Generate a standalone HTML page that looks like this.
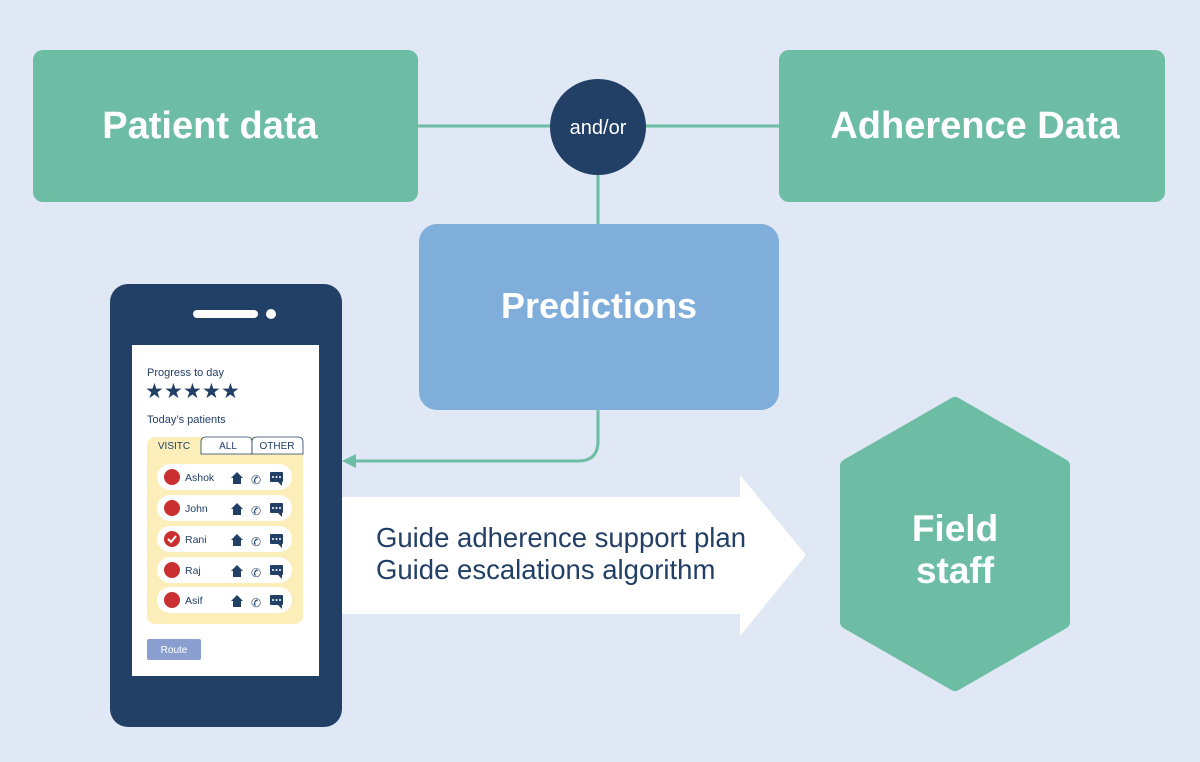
<!DOCTYPE html>
<html><head><style>
html,body{margin:0;padding:0;background:#dfe8f4;}
svg{display:block;font-family:"Liberation Sans",sans-serif;}
</style></head><body>
<svg width="1200" height="762" viewBox="0 0 1200 762" xmlns="http://www.w3.org/2000/svg">
<rect width="1200" height="762" fill="#dfe8f4"/>
<line x1="418" y1="126" x2="779" y2="126" stroke="#6dbda4" stroke-width="3"/>
<line x1="598" y1="150" x2="598" y2="226" stroke="#6dbda4" stroke-width="3"/>
<path d="M598 405 V441 Q598 461 578 461 H352" fill="none" stroke="#6dbda4" stroke-width="3"/>
<polygon points="342,461 356,454 356,468" fill="#6dbda4"/>
<rect x="33" y="50" width="385" height="152" rx="10" fill="#6dbda4"/>
<text x="210" y="138" text-anchor="middle" font-size="38" font-weight="bold" fill="#fff">Patient data</text>
<rect x="779" y="50" width="386" height="152" rx="10" fill="#6dbda4"/>
<text x="975" y="138" text-anchor="middle" font-size="38" font-weight="bold" fill="#fff">Adherence Data</text>
<circle cx="598" cy="127" r="48" fill="#223f66"/>
<text x="598" y="134" text-anchor="middle" font-size="20" fill="#fff">and/or</text>
<rect x="419" y="224" width="360" height="186" rx="18" fill="#80aedb"/>
<text x="599" y="318" text-anchor="middle" font-size="36" font-weight="bold" fill="#fff">Predictions</text>
<polygon points="342,497 740,497 740,475 806,555 740,636 740,614 342,614" fill="#fff"/>
<text x="376" y="547" font-size="27.5" fill="#223f66">Guide adherence support plan</text>
<text x="376" y="579" font-size="27.5" fill="#223f66">Guide escalations algorithm</text>
<polygon points="955,404 1063,466 1063,622 955,684 847,622 847,466" fill="#6dbda4" stroke="#6dbda4" stroke-width="14" stroke-linejoin="round"/>
<text x="955" y="541" text-anchor="middle" font-size="37" font-weight="bold" fill="#fff">Field</text>
<text x="955" y="583" text-anchor="middle" font-size="37" font-weight="bold" fill="#fff">staff</text>
<rect x="110" y="284" width="232" height="443" rx="18" fill="#223f66"/>
<rect x="193" y="310" width="65" height="8" rx="4" fill="#fff"/>
<circle cx="271" cy="314" r="5" fill="#fff"/>
<rect x="132" y="345" width="187" height="331" fill="#fff"/>
<text x="147" y="376" font-size="11" fill="#223f66">Progress to day</text>
<g fill="#223f66" font-size="21">
<text x="145" y="398">★</text><text x="164" y="398">★</text><text x="183" y="398">★</text><text x="202" y="398">★</text><text x="221" y="398">★</text>
</g>
<text x="147" y="423" font-size="11" fill="#223f66">Today’s patients</text>
<rect x="147" y="437" width="156" height="187" rx="8" fill="#fbeeb8"/>
<path d="M201 454 V442 Q201 437 206 437 H248 Q252 437 252 442 V454 Z" fill="#fff" stroke="#223f66" stroke-width="0.8"/>
<path d="M252 454 V442 Q252 437 257 437 H298 Q303 437 303 442 V454 Z" fill="#fff" stroke="#223f66" stroke-width="0.8"/>
<text x="174" y="449" text-anchor="middle" font-size="10" fill="#223f66">VISITC</text>
<text x="228" y="449" text-anchor="middle" font-size="10" fill="#223f66">ALL</text>
<text x="277" y="449" text-anchor="middle" font-size="10" fill="#223f66">OTHER</text>
<g font-size="10.5" fill="#223f66">
<rect x="157" y="464" width="135" height="26" rx="13" fill="#fff"/><circle cx="172" cy="477" r="8" fill="#c9302f"/><text x="185" y="481">Ashok</text>
<rect x="157" y="495" width="135" height="26" rx="13" fill="#fff"/><circle cx="172" cy="508" r="8" fill="#c9302f"/><text x="185" y="512">John</text>
<rect x="157" y="526" width="135" height="26" rx="13" fill="#fff"/><circle cx="172" cy="539" r="8" fill="#c9302f"/><path d="M168 539 l3 3 l5 -6" stroke="#fff" stroke-width="2" fill="none"/><text x="185" y="543">Rani</text>
<rect x="157" y="557" width="135" height="26" rx="13" fill="#fff"/><circle cx="172" cy="570" r="8" fill="#c9302f"/><text x="185" y="574">Raj</text>
<rect x="157" y="587" width="135" height="26" rx="13" fill="#fff"/><circle cx="172" cy="600" r="8" fill="#c9302f"/><text x="185" y="604">Asif</text>
</g>
<g fill="#223f66">
<g id="ic"><polygon points="237,472 231,478 233,478 233,484 241,484 241,478 243,478"/><text x="251" y="484" font-size="12">✆</text><rect x="270" y="472" width="13" height="10" rx="1"/><polygon points="278,482 282,482 282,486"/><circle cx="273" cy="477" r="1" fill="#fff"/><circle cx="276.5" cy="477" r="1" fill="#fff"/><circle cx="280" cy="477" r="1" fill="#fff"/></g>
<use href="#ic" y="31"/><use href="#ic" y="62"/><use href="#ic" y="93"/><use href="#ic" y="123"/>
</g>
<rect x="147" y="639" width="54" height="21" rx="2" fill="#8a9fd0"/>
<text x="174" y="653" text-anchor="middle" font-size="10" fill="#fff">Route</text>
</svg>
</body></html>
